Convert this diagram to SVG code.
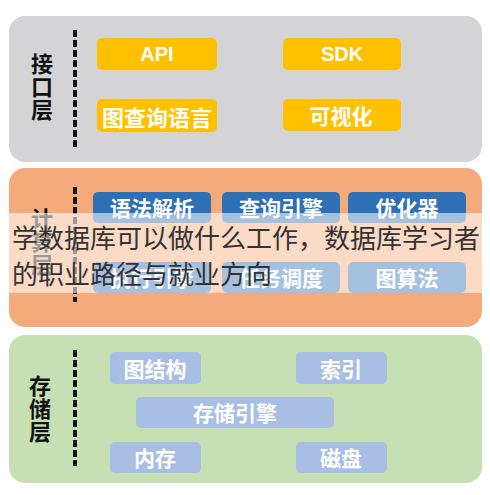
<svg xmlns="http://www.w3.org/2000/svg" width="490" height="495" viewBox="0 0 490 495">
<style>
.layer{stroke:none}
.box{stroke:none}
.bt{font-family:"Noto Sans CJK SC","Liberation Sans",sans-serif;font-weight:bold;font-size:21px;fill:#ffffff;text-anchor:middle;dominant-baseline:central}
.lt{font-family:"Noto Sans CJK SC","Liberation Sans",sans-serif;font-weight:bold;font-size:22px;fill:#111111;text-anchor:middle;dominant-baseline:central}
.dash{stroke:#111111;stroke-width:4;stroke-dasharray:7 3;fill:none}
.wm{font-family:"Noto Sans CJK SC","Liberation Sans",sans-serif;font-size:26px;fill:#333333}
</style>
<rect width="490" height="495" fill="#ffffff"/>
<g id="layer-interface">
<rect class="layer" x="9" y="16" width="473" height="146" rx="16" fill="#d4d4d6"/>
<text class="lt" x="42" y="62">接</text>
<text class="lt" x="42" y="85">口</text>
<text class="lt" x="42" y="108">层</text>
</g>
<g id="layer-compute">
<rect class="layer" x="9" y="168" width="473" height="159" rx="16" fill="#f5aa7c"/>
<text class="lt" x="42" y="217">计</text>
<text class="lt" x="42" y="240">算</text>
<text class="lt" x="42" y="263">层</text>
</g>
<g id="layer-storage">
<rect class="layer" x="9" y="335" width="473" height="148" rx="16" fill="#c6e0b4"/>
<text class="lt" x="40" y="384">存</text>
<text class="lt" x="40" y="407">储</text>
<text class="lt" x="40" y="430">层</text>
</g>
<g id="connectors">
<line class="dash" x1="75" y1="30" x2="75" y2="148"/>
<line class="dash" x1="75" y1="187" x2="75" y2="302"/>
<line class="dash" x1="75" y1="350" x2="75" y2="466"/>
</g>
<g id="node-api"><rect class="box" x="97" y="38" width="120" height="32" rx="5" fill="#ffc000"/><text class="bt" x="157" y="54" style="font-family:'Liberation Sans',sans-serif;font-size:20px">API</text></g>
<g id="node-sdk"><rect class="box" x="283" y="38" width="118" height="32" rx="5" fill="#ffc000"/><text class="bt" x="342" y="54" style="font-family:'Liberation Sans',sans-serif;font-size:20px">SDK</text></g>
<g id="node-gql"><rect class="box" x="97" y="99" width="120" height="33" rx="5" fill="#ffc000"/><text class="bt" x="157" y="116" style="font-size:22px">图查询语言</text></g>
<g id="node-vis"><rect class="box" x="283" y="99" width="118" height="32" rx="5" fill="#ffc000"/><text class="bt" x="341" y="115">可视化</text></g>
<g id="node-parse"><rect class="box" x="93" y="192" width="118" height="31" rx="5" fill="#2e70b6"/><text class="bt" x="152" y="207">语法解析</text></g>
<g id="node-query"><rect class="box" x="222" y="192" width="118" height="31" rx="5" fill="#2e70b6"/><text class="bt" x="281" y="207">查询引擎</text></g>
<g id="node-opt"><rect class="box" x="348" y="192" width="118" height="31" rx="5" fill="#2e70b6"/><text class="bt" x="407" y="207">优化器</text></g>
<g id="node-exec"><rect class="box" x="93" y="262" width="118" height="31" rx="5" fill="#2e70b6"/><text class="bt" x="152" y="277">执行引擎</text></g>
<g id="node-sched"><rect class="box" x="222" y="262" width="118" height="31" rx="5" fill="#2e70b6"/><text class="bt" x="281" y="277">任务调度</text></g>
<g id="node-algo"><rect class="box" x="348" y="262" width="118" height="31" rx="5" fill="#2e70b6"/><text class="bt" x="407" y="277">图算法</text></g>
<g id="node-graph"><rect class="box" x="110" y="352" width="91" height="32" rx="5" fill="#a9bee4"/><text class="bt" x="155" y="368">图结构</text></g>
<g id="node-index"><rect class="box" x="296" y="352" width="91" height="32" rx="5" fill="#a9bee4"/><text class="bt" x="341" y="368">索引</text></g>
<g id="node-engine"><rect class="box" x="136" y="397" width="198" height="31" rx="5" fill="#a9bee4"/><text class="bt" x="235" y="412">存储引擎</text></g>
<g id="node-mem"><rect class="box" x="110" y="442" width="91" height="31" rx="5" fill="#a9bee4"/><text class="bt" x="155" y="457">内存</text></g>
<g id="node-disk"><rect class="box" x="296" y="442" width="91" height="31" rx="5" fill="#a9bee4"/><text class="bt" x="341" y="457">磁盘</text></g>
<rect x="0" y="213" width="482" height="80" fill="#ffffff" fill-opacity="0.57"/>
<text class="wm" x="12" y="248">学数据库可以做什么工作，数据库学习者</text>
<text class="wm" x="12" y="284">的职业路径与就业方向</text>
</svg>
